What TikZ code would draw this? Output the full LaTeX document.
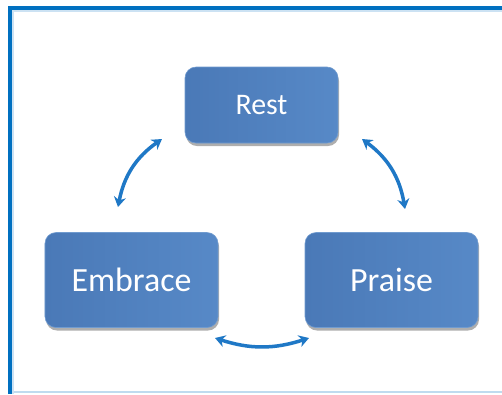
\documentclass[tikz,border=0pt]{standalone}
\usepackage{fontspec}
\setmainfont{Carlito}
\usetikzlibrary{arrows.meta,shadows}
\definecolor{framec}{HTML}{0070C0}
\definecolor{boxl}{HTML}{4A79B7}
\definecolor{boxr}{HTML}{5789C7}
\definecolor{arrc}{HTML}{1F78C6}
\begin{document}
\begin{tikzpicture}[>={Stealth[length=10bp,width=12bp]},x=1bp,y=-1bp]
                \tikzstyle{every node}=[font=\fontsize{34}{34}\selectfont,text=white]
                \tikzstyle{stepbox}=[rectangle,rounded corners=11bp,left color=boxl,right color=boxr,draw=boxr!85!white,line width=0.6bp,drop shadow={shadow xshift=1bp,shadow yshift=-3bp,opacity=0.45,fill=black!70}]
                \tikzstyle{link}=[<->,draw=arrc,line width=3.5bp]
                \useasboundingbox (0,0) rectangle (502,394);
                \fill[white] (0,0) rectangle (502,394);
                % frame
                \draw[framec!25,line width=2bp] (10,392)--(502,392);
                \draw[framec!20,line width=2bp] (13,394)--(13,11)--(502,11);
                \draw[framec,line width=4bp] (10,394)--(10,8)--(502,8);
                % boxes
                \node[stepbox,minimum width=153bp,minimum height=76bp,font=\fontsize{30}{30}\selectfont] (rest) at (261.5,105) {Rest};
                \node[stepbox,minimum width=173bp,minimum height=95bp] (embrace) at (131.5,280) {Embrace};
                \node[stepbox,minimum width=173bp,minimum height=95bp] (praise) at (391.5,280) {Praise};
                % arrows
                \coordinate (re1) at (118,207);
                \coordinate (re2) at (162,139);
                \coordinate (rp1) at (362,139);
                \coordinate (rp2) at (405,209);
                \coordinate (ep1) at (215,338);
                \coordinate (ep2) at (309,338);
                \draw[link] (re1) to[bend left=22] (re2);
                \draw[link] (rp1) to[bend left=22] (rp2);
                \draw[link] (ep1) to[bend right=18] (ep2);
            \end{tikzpicture}
\end{document}
